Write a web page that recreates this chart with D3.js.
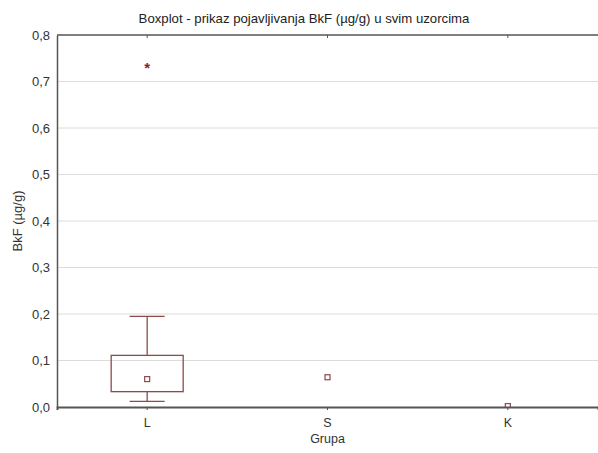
<!DOCTYPE html>
<html><head><meta charset="utf-8">
<script src="https://cdn.jsdelivr.net/npm/d3@7"></script>
<style>body{margin:0;background:#fff}svg{display:block}text{font-family:"Liberation Sans",Arial,sans-serif}</style>
</head><body>
<script>
const categories = ["L","S","K"];
const q1 = [0.033, null, null];
const q3 = [0.111, null, null];
const whiskerLow = [0.012, null, null];
const whiskerHigh = [0.195, null, null];
const medians = [0.060, 0.064, 0.002];
const outliers = [{cat:"L", value:0.733}];
const yTicks = [0,0.1,0.2,0.3,0.4,0.5,0.6,0.7,0.8];

const W=598,H=453, m={l:57,r:0,t:35,b:46};
const svg=d3.select("body").append("svg").attr("width",W).attr("height",H);
const x=d3.scaleBand().domain(categories).range([m.l,W-m.r]);
const y=d3.scaleLinear().domain([0,0.8]).range([H-m.b,m.t]);
const fmt=d=>d3.format(".1f")(d).replace(".",",");
const boxCol="#8c4a4a";

svg.append("clipPath").attr("id","plotclip").append("rect")
 .attr("x",m.l).attr("y",m.t).attr("width",W-m.l-m.r).attr("height",H-m.b-m.t);

// grid
svg.append("g").selectAll("line").data(yTicks.slice(1,-1)).join("line")
 .attr("x1",m.l).attr("x2",W-m.r).attr("y1",d=>y(d)).attr("y2",d=>y(d))
 .attr("stroke","#dcdcdc").attr("stroke-width",1);

// boxes
const bw=72, cw=35;
const plot=svg.append("g").attr("clip-path","url(#plotclip)");
categories.forEach((c,i)=>{
  const cx=x(c)+x.bandwidth()/2;
  if(q1[i]!=null){
    const g=plot.append("g").attr("stroke",boxCol).attr("fill","none").attr("stroke-width",1.3);
    g.append("line").attr("x1",cx).attr("x2",cx).attr("y1",y(q3[i])).attr("y2",y(whiskerHigh[i]));
    g.append("line").attr("x1",cx).attr("x2",cx).attr("y1",y(q1[i])).attr("y2",y(whiskerLow[i]));
    g.append("line").attr("x1",cx-cw/2).attr("x2",cx+cw/2).attr("y1",y(whiskerHigh[i])).attr("y2",y(whiskerHigh[i]));
    g.append("line").attr("x1",cx-cw/2).attr("x2",cx+cw/2).attr("y1",y(whiskerLow[i])).attr("y2",y(whiskerLow[i]));
    g.append("rect").attr("x",cx-bw/2).attr("width",bw).attr("y",y(q3[i])).attr("height",y(q1[i])-y(q3[i]));
  }
  plot.append("rect").attr("x",cx-2.5).attr("y",y(medians[i])-2.5).attr("width",5).attr("height",5)
   .attr("fill","#fff").attr("stroke",boxCol).attr("stroke-width",1.2);
});
outliers.forEach(o=>{
  plot.append("text").attr("x",x(o.cat)+x.bandwidth()/2).attr("y",y(o.value)+6.5)
   .attr("text-anchor","middle").attr("font-size",15).attr("font-weight","bold").attr("fill","#8b1a3a").text("*");
});

// axes
const ya=svg.append("g").attr("transform",`translate(${m.l},0)`)
 .call(d3.axisLeft(y).tickValues(yTicks).tickFormat(fmt).tickSize(0).tickPadding(7));
ya.select(".domain").attr("stroke","#555").attr("stroke-width",1.5);
ya.selectAll("text").attr("font-size",13).attr("fill","#333");
const xa=svg.append("g").attr("transform",`translate(0,${H-m.b})`)
 .call(d3.axisBottom(x).tickSize(3).tickPadding(8));
xa.select(".domain").attr("stroke","#555").attr("stroke-width",2);
xa.selectAll("line").attr("stroke","#555");
xa.selectAll("text").attr("font-size",12.5).attr("fill","#333");
// top border
svg.append("line").attr("x1",m.l).attr("x2",W).attr("y1",m.t).attr("y2",m.t).attr("stroke","#555").attr("stroke-width",1.5);
svg.append("g").selectAll("line").data(categories).join("line")
 .attr("x1",d=>x(d)+x.bandwidth()/2).attr("x2",d=>x(d)+x.bandwidth()/2)
 .attr("y1",m.t).attr("y2",m.t+3).attr("stroke","#555");

svg.append("text").attr("x",304).attr("y",23).attr("text-anchor","middle").attr("font-size",13.2).attr("fill","#222")
 .text("Boxplot - prikaz pojavljivanja BkF (µg/g) u svim uzorcima");
svg.append("text").attr("x",x("S")+x.bandwidth()/2).attr("y",443).attr("text-anchor","middle").attr("font-size",12.5).attr("fill","#333").text("Grupa");
svg.append("text").attr("transform","translate(22,221) rotate(-90)").attr("text-anchor","middle").attr("font-size",13).attr("fill","#333").text("BkF (µg/g)");
</script>
</body></html>
